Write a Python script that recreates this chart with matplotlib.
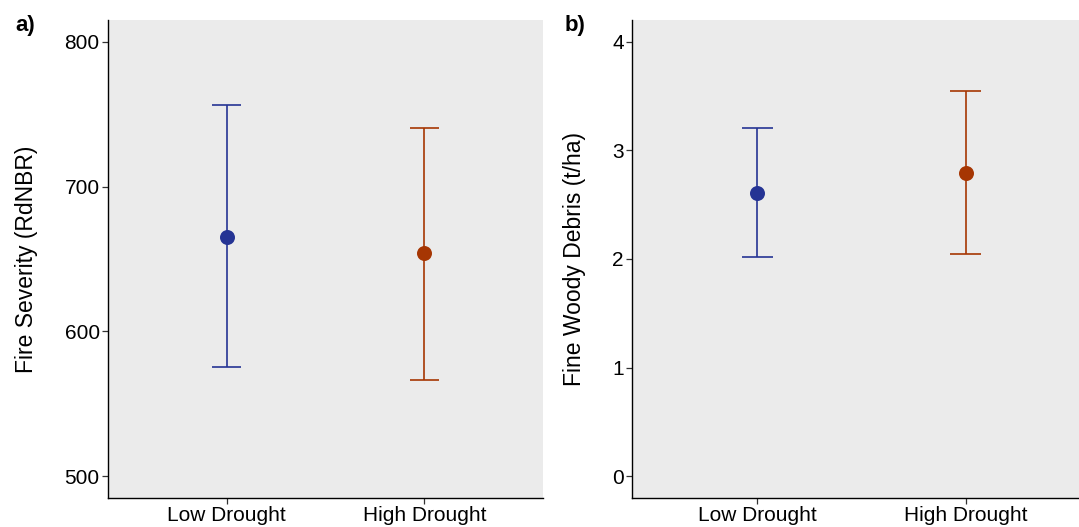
import matplotlib.pyplot as plt

# values
groups = ['Low Drought', 'High Drought']
colors = ['#253494', '#A63603']

severity_mean = [665.5, 653.8]
severity_low = [575.2, 566.7]
severity_high = [756.2, 740.5]

fwd_mean = [2.611, 2.795]
fwd_low = [2.020, 2.047]
fwd_high = [3.203, 3.544]

W, H = 1079, 527
plt.rcParams['font.family'] = ['Liberation Sans', 'DejaVu Sans']

fig = plt.figure(figsize=(W / 100, H / 100), dpi=100)


def px_axes(left, top, right, bottom):
    return fig.add_axes([left / W, 1 - bottom / H, (right - left) / W, (bottom - top) / H])


def draw_panel(ax, means, lows, highs, ylim, yticks, ylabel):
    ax.set_facecolor('#EBEBEB')
    x = list(range(1, len(groups) + 1))
    for xi, m, lo, hi, c in zip(x, means, lows, highs, colors):
        ax.plot([xi, xi], [lo, hi], color=c, lw=1.2, solid_capstyle='butt', zorder=2)
        for yv in (lo, hi):
            ax.plot([xi - 0.075, xi + 0.075], [yv, yv], color=c, lw=1.2,
                    solid_capstyle='butt', zorder=2)
        ax.plot(xi, m, 'o', color=c, ms=10.8, mec='none', zorder=3)
    span = ylim[1] - ylim[0]
    ax.set_ylim(ylim[0] - 0.05 * span, ylim[1] + 0.05 * span)
    ax.set_xlim(0.4, len(groups) + 0.6)
    ax.set_xticks(x)
    ax.set_xticklabels(groups)
    ax.set_yticks(yticks)
    ax.set_yticklabels([str(t) for t in yticks])
    ax.set_ylabel(ylabel, fontsize=16.5, labelpad=19)
    for side in ('top', 'right'):
        ax.spines[side].set_visible(False)
    for side in ('left', 'bottom'):
        ax.spines[side].set_linewidth(1.0)
        ax.spines[side].set_color('black')
    ax.tick_params(axis='both', length=4, width=0.9, color='#333333',
                   labelsize=15, labelcolor='black', pad=2)


ax1 = px_axes(108, 20, 543, 498)
draw_panel(ax1, severity_mean, severity_low, severity_high, (500, 800),
           [500, 600, 700, 800], 'Fire Severity (RdNBR)')

ax2 = px_axes(632, 20, 1091, 498)
draw_panel(ax2, fwd_mean, fwd_low, fwd_high, (0, 4),
           [0, 1, 2, 3, 4], 'Fine Woody Debris (t/ha)')

fig.text(15 / W, 1 - 25 / H, 'a)', fontsize=16, fontweight='bold', va='center', ha='left')
fig.text(565 / W, 1 - 25 / H, 'b)', fontsize=16, fontweight='bold', va='center', ha='left')

fig.savefig('out.png', dpi=100)
